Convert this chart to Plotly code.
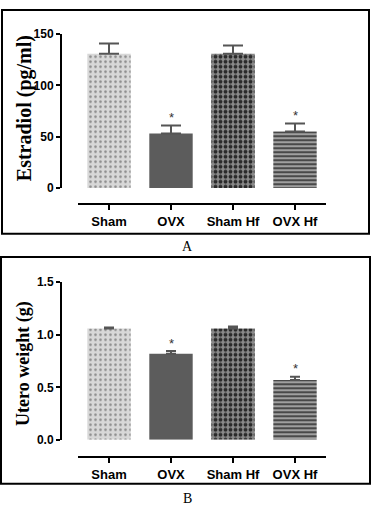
import plotly.graph_objects as go

groups = ["Sham", "OVX", "Sham Hf", "OVX Hf"]
estradiol = [131, 53, 131, 55]
estradiol_err = [10, 8, 8, 8]
utero = [1.06, 0.82, 1.06, 0.57]
utero_err = [0.01, 0.025, 0.02, 0.03]
star_a = ["", "*", "", "*"]
star_b = ["", "*", "", "*"]

W, H = 375, 513
def px(x): return x / W
def py(y): return 1 - y / H

bg = ["#d8d8d8", "#5c5c5c", "#8a8a8a", "#a0a0a0"]
fg = ["#8a8a8a", "#5c5c5c", "#2a2a2a", "#333333"]
shapes_p = [".", "", ".", "-"]
sizes = [5, 8, 5, 4]
solid = [0.2, 0.3, 0.45, 0.4]

fig = go.Figure()

def add_bars(vals, errs, xa, ya, capw):
    for i, g in enumerate(groups):
        fig.add_trace(go.Bar(
            x=[g], y=[vals[i]], xaxis=xa, yaxis=ya,
            marker=dict(color=bg[i], line=dict(color=bg[i], width=0),
                        pattern=dict(shape=shapes_p[i], fgcolor=fg[i], bgcolor=bg[i],
                                     size=sizes[i], solidity=solid[i], fillmode="replace")),
            error_y=dict(type="data", symmetric=False, array=[errs[i]], arrayminus=[0],
                         visible=True, color="#555555", thickness=2, width=capw),
            showlegend=False, width=0.7))

add_bars(estradiol, estradiol_err, "x", "y", 10)
add_bars(utero, utero_err, "x2", "y2", 5)

xtickfont = dict(family="Arial, Liberation Sans, sans-serif", size=13, color="black", weight="bold")
ytickfont = dict(family="Arial, Liberation Sans, sans-serif", size=12, color="black", weight="bold")
serif = "Times New Roman, Liberation Serif, serif"

common_x = dict(domain=[px(78), px(326)], showline=True, linecolor="black", linewidth=2,
                ticks="outside", ticklen=5, tickwidth=2, tickcolor="black",
                tickfont=xtickfont, showgrid=False, zeroline=False, anchor="free",
                categoryorder="array", categoryarray=groups)
common_y = dict(showline=True, linecolor="black", linewidth=2, ticks="outside", ticklen=4,
                tickwidth=2, tickcolor="black", tickfont=ytickfont, showgrid=False,
                zeroline=False, anchor="free", position=px(61))

fig.update_layout(
    width=W, height=H, margin=dict(l=0, r=0, t=0, b=0),
    paper_bgcolor="white", plot_bgcolor="rgba(0,0,0,0)", bargap=0.3,
    xaxis=dict(common_x, position=py(203)),
    yaxis=dict(common_y, domain=[py(186), py(28)], range=[0, 150], tickvals=[0, 50, 100, 150]),
    xaxis2=dict(common_x, position=py(463)),
    yaxis2=dict(common_y, domain=[py(445), py(283)], range=[0, 1.5], tickvals=[0, 0.5, 1.0, 1.5],
                tickformat=".1f"),
)

fig.add_annotation(text="Estradiol (pg/ml)", xref="paper", yref="paper", x=px(24), y=py(104),
                   textangle=-90, showarrow=False, xanchor="center", yanchor="middle",
                   font=dict(family=serif, size=20, color="black", weight="bold"))
fig.add_annotation(text="Utero weight (g)", xref="paper", yref="paper", x=px(24), y=py(367),
                   textangle=-90, showarrow=False, xanchor="center", yanchor="middle",
                   font=dict(family=serif, size=18, color="black", weight="bold"))

for i, g in enumerate(groups):
    if star_a[i]:
        fig.add_annotation(x=g, y=estradiol[i] + estradiol_err[i], xref="x", yref="y",
                           text=star_a[i], showarrow=False, yshift=8,
                           font=dict(family="Arial", size=13, color="#333"))
    if star_b[i]:
        fig.add_annotation(x=g, y=utero[i] + utero_err[i], xref="x2", yref="y2",
                           text=star_b[i], showarrow=False, yshift=8,
                           font=dict(family="Arial", size=13, color="#333"))

fig.add_shape(type="rect", xref="paper", yref="paper", x0=px(2), x1=px(369), y0=py(233), y1=py(3),
              line=dict(color="black", width=2))
fig.add_shape(type="rect", xref="paper", yref="paper", x0=px(1), x1=px(370), y0=py(490), y1=py(257),
              line=dict(color="black", width=2))
fig.add_annotation(text="A", xref="paper", yref="paper", x=px(187), y=py(246), showarrow=False,
                   xanchor="center", yanchor="middle",
                   font=dict(family=serif, size=14, color="black"))
fig.add_annotation(text="B", xref="paper", yref="paper", x=px(187), y=py(505), showarrow=False,
                   xanchor="center", yanchor="middle",
                   font=dict(family=serif, size=14, color="black"))

fig.write_html("out.html")
